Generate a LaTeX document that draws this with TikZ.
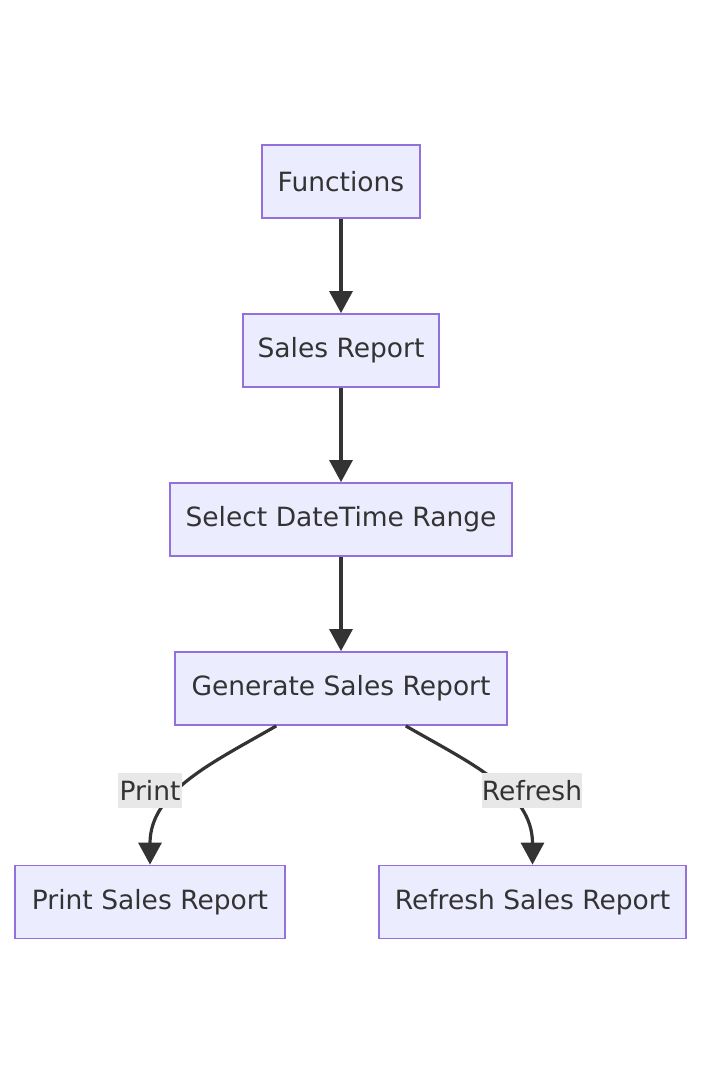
\documentclass[tikz,border=0pt]{standalone}
\usepackage{fontspec}
\setmainfont{DejaVu Sans}
\usetikzlibrary{arrows.meta}
\definecolor{nodefill}{HTML}{ECECFF}
\definecolor{nodeline}{HTML}{9370DB}
\definecolor{edgecol}{HTML}{333333}
\definecolor{lblbg}{HTML}{E8E8E8}
\begin{document}
\begin{tikzpicture}[x=1pt,y=-1pt,
  box/.style={draw=nodeline, fill=nodefill, line width=1.8pt, minimum height=73pt,
    inner sep=0pt, text=edgecol, font=\fontsize{26.5}{30}\selectfont},
  flow/.style={draw=edgecol, line width=3.2pt, -{Triangle[length=22pt,width=23pt]}},
  lbl/.style={fill=lblbg, inner sep=0pt, minimum height=35pt, text=edgecol,
    font=\fontsize{26.5}{30}\selectfont}
]
\useasboundingbox (0,0) rectangle (701,1085);
\node[box, minimum width=158pt] (f) at (341,181.5) {Functions};
\node[box, minimum width=196pt] (s) at (341,350.5) {Sales Report};
\node[box, minimum width=342pt] (d) at (341,519.5) {Select DateTime Range};
\node[box, minimum width=332pt] (g) at (341,688.5) {Generate Sales Report};
\node[box, minimum width=270pt] (p) at (150,902) {Print Sales Report};
\node[box, minimum width=307pt] (r) at (532.5,902) {Refresh Sales Report};
\draw[flow] (f) -- (s);
\draw[flow] (s) -- (d);
\draw[flow] (d) -- (g);
\draw[flow] (g) to[out=-150,in=90] (p);
\draw[flow] (g) to[out=-30,in=90] (r);
\node[lbl, minimum width=64pt] (lp) at (150,790.5) {Print};
\node[lbl, minimum width=100pt] (lr) at (532,790.5) {Refresh};
\end{tikzpicture}
\end{document}
